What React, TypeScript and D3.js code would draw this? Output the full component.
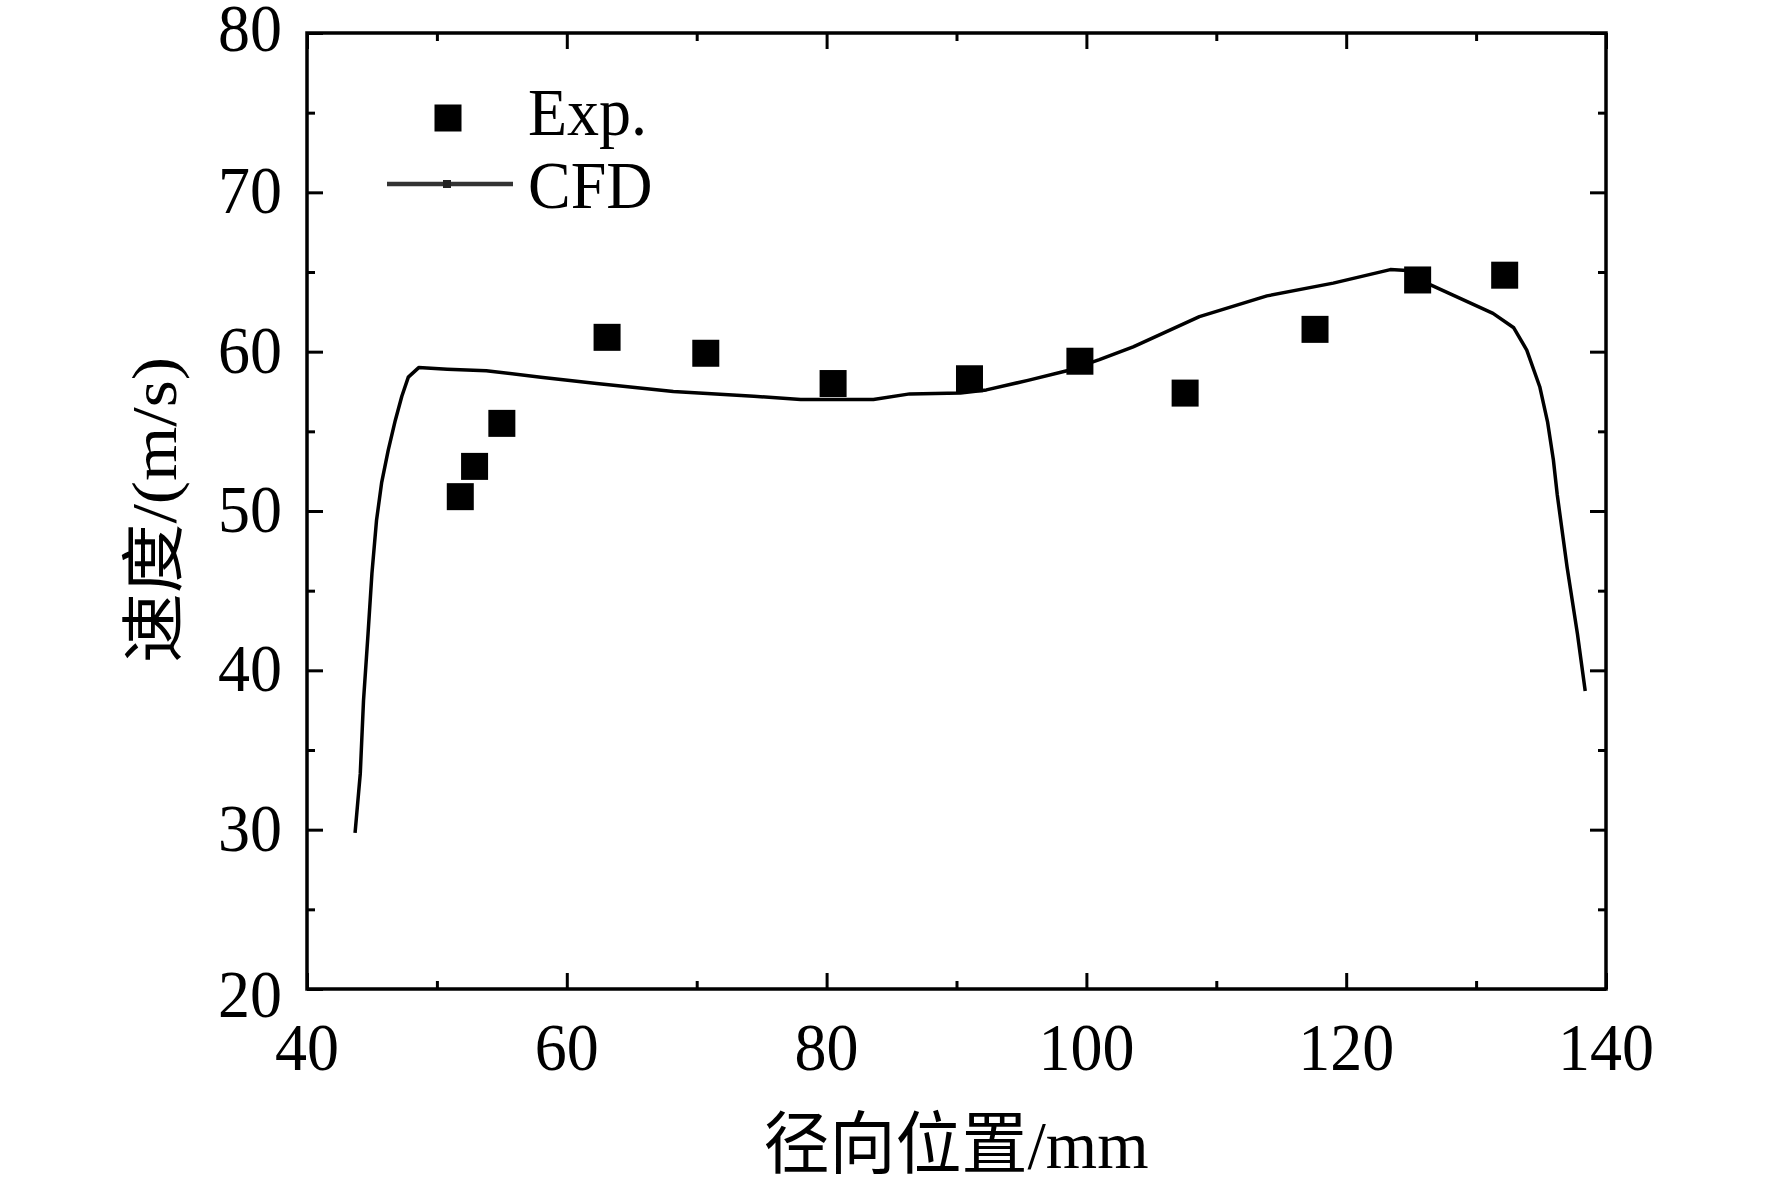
import { useEffect, useRef } from 'react'
import * as d3 from 'd3'

// Exp. measurements (radial position mm, velocity m/s)
const expX = [51.8, 52.9, 55.0, 63.1, 70.7, 80.5, 91.0, 99.5, 107.6, 117.6, 125.5, 132.2]
const expY = [50.9, 52.8, 55.5, 60.9, 59.9, 58.0, 58.3, 59.4, 57.4, 61.4, 64.5, 64.8]

// CFD profile
const cfdX = [
  43.7, 44.1, 44.35, 44.7, 45.0, 45.35, 45.75, 46.25, 46.8, 47.3, 47.8, 48.6, 50.8, 53.8,
  58.0, 62.3, 68.2, 74.4, 78.0, 83.6, 86.4, 90.3, 92.3, 95.5, 98.5, 101.0, 103.6, 108.7,
  113.9, 119.0, 123.4, 124.7, 126.2, 131.3, 132.9, 133.9, 134.9, 135.5, 135.95, 136.25,
  137.0, 137.8, 138.4,
]
const cfdY = [
  29.8, 33.5, 38.1, 42.3, 46.1, 49.4, 51.8, 53.8, 55.7, 57.2, 58.4, 59.0, 58.9, 58.8,
  58.4, 58.0, 57.5, 57.2, 57.0, 57.0, 57.35, 57.4, 57.6, 58.2, 58.8, 59.5, 60.3, 62.2,
  63.5, 64.3, 65.15, 65.1, 64.3, 62.4, 61.5, 60.1, 57.8, 55.6, 53.2, 51.0,
  46.5, 42.3, 38.7,
]

const xMajor = [40, 60, 80, 100, 120, 140]
const xMinor = [50, 70, 90, 110, 130]
const yMajor = [20, 30, 40, 50, 60, 70, 80]
const yMinor = [25, 35, 45, 55, 65, 75]
const seriesNames = ['Exp.', 'CFD']
const xTitle = '径向位置/mm'
const yTitle = '速度/(m/s)'

export default function App() {
  const svgRef = useRef<SVGSVGElement>(null)

  useEffect(() => {
    if (!svgRef.current) return
    const svg = d3.select(svgRef.current)
    svg.selectAll('*').remove()

    const m = { left: 307, top: 33, right: 1606, bottom: 989 }
    const font = '"Liberation Serif", "Times New Roman", "Noto Sans CJK SC", serif'
    const fs = 64
    const stretch = 1.07

    const x = d3.scaleLinear().domain([40, 140]).range([m.left, m.right])
    const y = d3.scaleLinear().domain([20, 80]).range([m.bottom, m.top])

    // ticks on all four sides, pointing inward
    const addTicks = (axis: any, transform: string) => {
      svg.append('g')
        .attr('transform', transform)
        .call(axis)
        .call((g: any) => {
          g.select('.domain').remove()
          g.selectAll('text').remove()
          g.selectAll('line').attr('stroke', '#000').attr('stroke-width', 3)
        })
    }
    const none = () => ''
    addTicks(d3.axisBottom(x).tickValues(xMajor).tickSize(-16).tickFormat(none), `translate(0,${m.bottom})`)
    addTicks(d3.axisBottom(x).tickValues(xMinor).tickSize(-8).tickFormat(none), `translate(0,${m.bottom})`)
    addTicks(d3.axisTop(x).tickValues(xMajor).tickSize(-16).tickFormat(none), `translate(0,${m.top})`)
    addTicks(d3.axisTop(x).tickValues(xMinor).tickSize(-8).tickFormat(none), `translate(0,${m.top})`)
    addTicks(d3.axisLeft(y).tickValues(yMajor).tickSize(-16).tickFormat(none), `translate(${m.left},0)`)
    addTicks(d3.axisLeft(y).tickValues(yMinor).tickSize(-8).tickFormat(none), `translate(${m.left},0)`)
    addTicks(d3.axisRight(y).tickValues(yMajor).tickSize(-16).tickFormat(none), `translate(${m.right},0)`)
    addTicks(d3.axisRight(y).tickValues(yMinor).tickSize(-8).tickFormat(none), `translate(${m.right},0)`)

    // frame
    svg.append('rect')
      .attr('x', m.left)
      .attr('y', m.top)
      .attr('width', m.right - m.left)
      .attr('height', m.bottom - m.top)
      .attr('fill', 'none')
      .attr('stroke', '#000')
      .attr('stroke-width', 3.5)

    // tick labels
    svg.selectAll('.xlab')
      .data(xMajor)
      .enter()
      .append('text')
      .attr('class', 'xlab')
      .attr('transform', d => `translate(${x(d)},1070) scale(1,${stretch})`)
      .attr('text-anchor', 'middle')
      .attr('font-family', font)
      .attr('font-size', fs)
      .attr('fill', '#000')
      .text(d => d)

    svg.selectAll('.ylab')
      .data(yMajor)
      .enter()
      .append('text')
      .attr('class', 'ylab')
      .attr('transform', d => {
        const off = d === 20 ? 28 : d === 80 ? 18 : 21
        return `translate(282,${y(d) + off}) scale(1,${stretch})`
      })
      .attr('text-anchor', 'end')
      .attr('font-family', font)
      .attr('font-size', fs)
      .attr('fill', '#000')
      .text(d => d)

    // axis titles
    svg.append('text')
      .attr('transform', 'translate(956,1168) scale(1,1.03)')
      .attr('text-anchor', 'middle')
      .attr('font-family', font)
      .attr('font-size', 66)
      .attr('fill', '#000')
      .text(xTitle)

    svg.append('text')
      .attr('transform', 'translate(176,510) rotate(-90) scale(1.09,1)')
      .attr('text-anchor', 'middle')
      .attr('font-family', font)
      .attr('font-size', 64)
      .attr('fill', '#000')
      .text(yTitle)

    // CFD line
    const cfd: [number, number][] = cfdX.map((v, i) => [v, cfdY[i]])
    const line = d3.line<[number, number]>()
      .x(d => x(d[0]))
      .y(d => y(d[1]))
    svg.append('path')
      .datum(cfd)
      .attr('d', line)
      .attr('fill', 'none')
      .attr('stroke', '#000')
      .attr('stroke-width', 3.5)
      .attr('stroke-linejoin', 'round')

    // Exp. squares
    const size = 27
    svg.selectAll('.exp')
      .data(expX.map((v, i) => [v, expY[i]]))
      .enter()
      .append('rect')
      .attr('class', 'exp')
      .attr('x', d => x(d[0]) - size / 2)
      .attr('y', d => y(d[1]) - size / 2)
      .attr('width', size)
      .attr('height', size)
      .attr('fill', '#000')

    // legend
    const lg = svg.append('g')
    lg.append('rect')
      .attr('x', 448 - size / 2)
      .attr('y', 118 - size / 2)
      .attr('width', size)
      .attr('height', size)
      .attr('fill', '#000')
    lg.append('line')
      .attr('x1', 387)
      .attr('x2', 513)
      .attr('y1', 184)
      .attr('y2', 184)
      .attr('stroke', '#333')
      .attr('stroke-width', 4.5)
    lg.append('rect')
      .attr('x', 443)
      .attr('y', 180)
      .attr('width', 8)
      .attr('height', 8)
      .attr('fill', '#222')
    lg.selectAll('.lgtext')
      .data(seriesNames)
      .enter()
      .append('text')
      .attr('class', 'lgtext')
      .attr('transform', (_, i) => `translate(528,${i === 0 ? 135 : 208}) scale(1,${stretch})`)
      .attr('font-family', font)
      .attr('font-size', fs)
      .attr('fill', '#000')
      .text(d => d)
  }, [])

  return (
    <svg
      ref={svgRef}
      width={1772}
      height={1189}
      style={{ position: 'absolute', left: 0, top: 0, background: '#fff' }}
    />
  )
}
